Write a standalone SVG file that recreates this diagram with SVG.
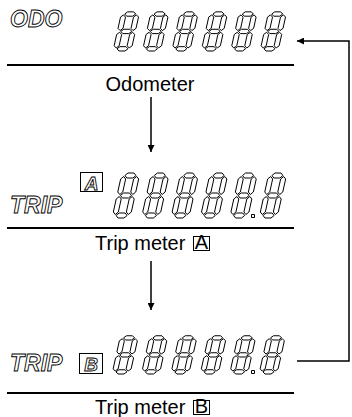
<svg xmlns="http://www.w3.org/2000/svg" width="352" height="417" viewBox="0 0 352 417">
<style>
.seg{fill:#fff;stroke:#000;stroke-width:1;vector-effect:non-scaling-stroke;stroke-linejoin:round}
.lbl{font-family:"Liberation Sans",Arial,sans-serif;font-size:20px;fill:#000}
.ind{font-family:"Liberation Sans",Arial,sans-serif;font-weight:bold;font-style:italic;fill:#fff;stroke:#000;stroke-width:0.9}
.rule{stroke:#000;stroke-width:2}
.conn{fill:none;stroke:#000;stroke-width:1.5}
.box{fill:#fff;stroke:#000;stroke-width:1}
</style>
<defs>
<marker id="ah" viewBox="0 0 10 10" refX="10" refY="5" markerWidth="7" markerHeight="7" orient="auto" markerUnits="userSpaceOnUse">
<path d="M0,0 L10,5 L0,10 z" fill="#000"/>
</marker>
<g id="digit">
<polygon class="seg" points="3.5,-42.5 6,-45 12,-45 14.5,-42.5 12,-40 6,-40"/>
<polygon class="seg" points="3.5,-22.5 6,-25 12,-25 14.5,-22.5 12,-20 6,-20"/>
<polygon class="seg" points="3.5,-2.5 6,-5 12,-5 14.5,-2.5 12,0 6,0"/>
<polygon class="seg" points="2.5,-41.5 5,-39 5,-26 2.5,-23.5 0,-26 0,-39"/>
<polygon class="seg" points="15.5,-41.5 18,-39 18,-26 15.5,-23.5 13,-26 13,-39"/>
<polygon class="seg" points="2.5,-21.5 5,-19 5,-6 2.5,-3.5 0,-6 0,-19"/>
<polygon class="seg" points="15.5,-21.5 18,-19 18,-6 15.5,-3.5 13,-6 13,-19"/>
</g>
</defs>

<g id="odometer">
<text class="ind" x="10" y="27" font-size="23">ODO</text>
<use href="#digit" transform="translate(113,51) skewX(-12.5) scale(1,0.87)"/>
<use href="#digit" transform="translate(142.4,51) skewX(-12.5) scale(1,0.87)"/>
<use href="#digit" transform="translate(171.8,51) skewX(-12.5) scale(1,0.87)"/>
<use href="#digit" transform="translate(201.2,51) skewX(-12.5) scale(1,0.87)"/>
<use href="#digit" transform="translate(230.6,51) skewX(-12.5) scale(1,0.87)"/>
<use href="#digit" transform="translate(260,51) skewX(-12.5) scale(1,0.87)"/>
<line class="rule" x1="7" y1="65" x2="294" y2="65"/>
<text class="lbl" x="150" y="91" text-anchor="middle">Odometer</text>
</g>

<g id="trip-a">
<text class="ind" x="10" y="213" font-size="23">TRIP</text>
<rect class="box" x="80.5" y="172.5" width="22" height="19"/>
<text class="ind" x="91.5" y="189.5" font-size="19" text-anchor="middle">A</text>
<use href="#digit" transform="translate(112,218) skewX(-12.5)"/>
<use href="#digit" transform="translate(141.4,218) skewX(-12.5)"/>
<use href="#digit" transform="translate(170.8,218) skewX(-12.5)"/>
<use href="#digit" transform="translate(200.2,218) skewX(-12.5)"/>
<use href="#digit" transform="translate(229.6,218) skewX(-12.5)"/>
<use href="#digit" transform="translate(259,218) skewX(-12.5)"/>
<rect class="seg" x="251.5" y="214.5" width="3" height="3"/>
<line class="rule" x1="7" y1="228" x2="294" y2="228"/>
<text class="lbl" x="95" y="250">Trip meter</text>
<rect class="box" x="193.5" y="236.5" width="16" height="14"/>
<text class="lbl" x="201.5" y="249" font-size="14" text-anchor="middle">A</text>
</g>

<g id="trip-b">
<text class="ind" x="10" y="371" font-size="23">TRIP</text>
<rect class="box" x="79.5" y="353.5" width="23" height="20"/>
<text class="ind" x="91" y="370.5" font-size="19" text-anchor="middle">B</text>
<use href="#digit" transform="translate(112,374) skewX(-12.5) scale(1,0.85)"/>
<use href="#digit" transform="translate(141.4,374) skewX(-12.5) scale(1,0.85)"/>
<use href="#digit" transform="translate(170.8,374) skewX(-12.5) scale(1,0.85)"/>
<use href="#digit" transform="translate(200.2,374) skewX(-12.5) scale(1,0.85)"/>
<use href="#digit" transform="translate(229.6,374) skewX(-12.5) scale(1,0.85)"/>
<use href="#digit" transform="translate(259,374) skewX(-12.5) scale(1,0.85)"/>
<rect class="seg" x="251.5" y="370.5" width="3" height="3"/>
<line class="rule" x1="7" y1="393" x2="294" y2="393"/>
<text class="lbl" x="95" y="414">Trip meter</text>
<rect class="box" x="193.5" y="400.5" width="16" height="14"/>
<text class="lbl" x="201.5" y="413" font-size="14" text-anchor="middle">B</text>
</g>

<g id="connectors">
<line class="conn" x1="151" y1="97" x2="151" y2="152" marker-end="url(#ah)"/>
<line class="conn" x1="151" y1="261" x2="151" y2="310" marker-end="url(#ah)"/>
<polyline class="conn" points="297,361 349,361 349,41 297,41" marker-end="url(#ah)"/>
</g>
</svg>
